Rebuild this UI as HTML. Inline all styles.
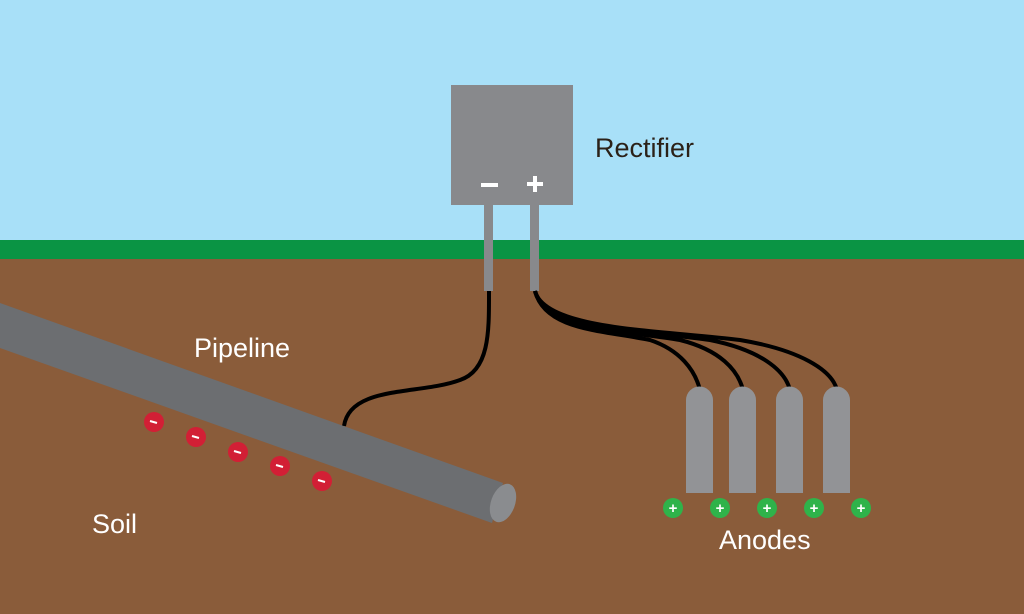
<!DOCTYPE html>
<html><head><style>body{margin:0}svg{display:block}</style></head><body>
<svg width="1024" height="614" viewBox="0 0 1024 614" xmlns="http://www.w3.org/2000/svg" font-family="Liberation Sans, sans-serif">
<rect width="1024" height="614" fill="#a8e0f8"/>
<rect y="259" width="1024" height="355" fill="#8a5c3a"/>
<rect y="240" width="1024" height="19" fill="#0a9444"/>
<rect x="451" y="85" width="122" height="120" fill="#88898c"/>
<rect x="484" y="205" width="9" height="86" fill="#88898c"/>
<rect x="530" y="205" width="9" height="86" fill="#88898c"/>
<rect x="481" y="183" width="17" height="4" fill="#fff"/>
<rect x="527" y="182" width="16" height="4" fill="#fff"/>
<rect x="533" y="176" width="4" height="16" fill="#fff"/>
<text x="595" y="157" fill="#2b2118" font-size="27">Rectifier</text>
<g fill="none" stroke="#000" stroke-width="4">
<path d="M489 291 C489 330 490 370 460 380 C420 395 350 385 344 426"/>
<path d="M535 291 C545 330 600 330 650 340 C680 350 695 370 700 390"/>
<path d="M535 291 C545 330 620 330 680 340 C720 350 738 370 743 390"/>
<path d="M535 291 C545 330 640 330 710 340 C760 350 785 370 790 390"/>
<path d="M535 291 C545 330 660 330 740 340 C800 350 832 370 837 390"/>
</g>
<g fill="#929396">
<path d="M686 493 V400 a13.5 13.5 0 0 1 27 0 V493Z"/>
<path d="M729 493 V400 a13.5 13.5 0 0 1 27 0 V493Z"/>
<path d="M776 493 V400 a13.5 13.5 0 0 1 27 0 V493Z"/>
<path d="M823 493 V400 a13.5 13.5 0 0 1 27 0 V493Z"/>
</g>
<g fill="#2fb34a">
<circle cx="673" cy="508" r="10"/><circle cx="720" cy="508" r="10"/><circle cx="767" cy="508" r="10"/><circle cx="814" cy="508" r="10"/><circle cx="861" cy="508" r="10"/>
</g>
<g fill="#fff" font-size="15" font-weight="bold" text-anchor="middle">
<text x="673" y="513">+</text><text x="720" y="513">+</text><text x="767" y="513">+</text><text x="814" y="513">+</text><text x="861" y="513">+</text>
</g>
<text x="719" y="549" fill="#fff" font-size="27">Anodes</text>
<polygon points="0,303 503,483 492,523 0,348" fill="#6c6e71"/>
<ellipse cx="503" cy="503" rx="12" ry="20" transform="rotate(20 503 503)" fill="#8a8c8f"/>
<g fill="#d21f35">
<circle cx="154" cy="422" r="10"/><circle cx="196" cy="437" r="10"/><circle cx="238" cy="452" r="10"/><circle cx="280" cy="466" r="10"/><circle cx="322" cy="481" r="10"/>
</g>
<g stroke="#fff" stroke-width="2">
<path d="M150 421 l7 2M192 436 l7 2M234 451 l7 2M276 465 l7 2M318 480 l7 2"/>
</g>
<text x="194" y="357" fill="#fff" font-size="27">Pipeline</text>
<text x="92" y="533" fill="#fff" font-size="27">Soil</text>
</svg>
</body></html>
